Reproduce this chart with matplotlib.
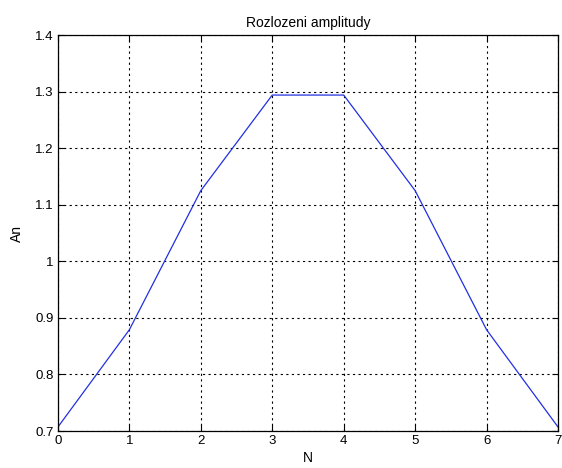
import matplotlib
matplotlib.use("Agg")
import matplotlib.pyplot as plt

# amplitude per harmonic index
n = [0, 1, 2, 3, 4, 5, 6, 7]
an = [0.707, 0.879, 1.125, 1.294, 1.294, 1.125, 0.879, 0.707]

x_ticks = [0, 1, 2, 3, 4, 5, 6, 7]
y_ticks = [0.7, 0.8, 0.9, 1.0, 1.1, 1.2, 1.3, 1.4]
y_labels = ["0.7", "0.8", "0.9", "1", "1.1", "1.2", "1.3", "1.4"]

plt.rcParams['font.family'] = ['Liberation Sans', 'DejaVu Sans']

fig = plt.figure(figsize=(5.62, 4.68), dpi=100)
ax = fig.add_axes([0.103, 0.079, 0.890, 0.846])

ax.plot(n, an, color="#2030e0", linewidth=0.9)

ax.set_xlim(0, 7)
ax.set_ylim(0.7, 1.4)
ax.set_xticks(x_ticks)
ax.set_yticks(y_ticks)
ax.set_yticklabels(y_labels)
ax.tick_params(direction="in", length=4, labelsize=9.5, pad=3, width=0.8)
ax.tick_params(top=True, right=True)

ax.grid(True, color="black", linestyle=(0, (2, 3)), linewidth=0.8)
for s in ax.spines.values():
    s.set_linewidth(0.9)

ax.set_title("Rozlozeni amplitudy", fontsize=10)
ax.set_xlabel("N", fontsize=10, labelpad=3)
ax.set_ylabel("An", fontsize=10, labelpad=8)

fig.savefig("out.png", dpi=100)
